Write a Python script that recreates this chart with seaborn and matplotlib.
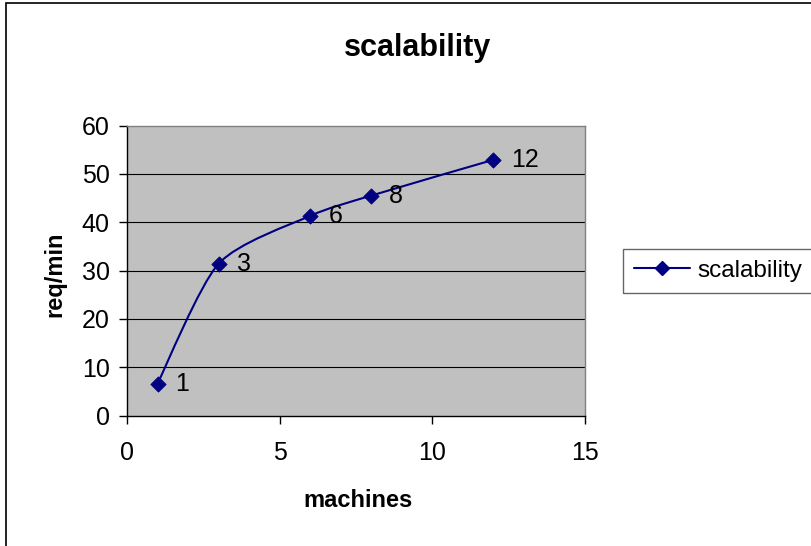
import matplotlib
matplotlib.use("Agg")
import matplotlib.pyplot as plt
import seaborn as sns
import numpy as np
import pandas as pd
from matplotlib.path import Path
from matplotlib.patches import PathPatch, Rectangle
from matplotlib.lines import Line2D

# data
machines = [1, 3, 6, 8, 12]
req_per_min = [6.6, 31.4, 41.3, 45.5, 52.9]
point_labels = ["1", "3", "6", "8", "12"]
x_ticks = [0, 5, 10, 15]
y_ticks = [0, 10, 20, 30, 40, 50, 60]

navy = "#000080"
df = pd.DataFrame({"machines": machines, "req_per_min": req_per_min})

sns.set_style("white")
plt.rcParams["font.family"] = ["Liberation Sans", "DejaVu Sans"]
plt.rcParams["text.color"] = "black"
plt.rcParams["axes.labelcolor"] = "black"
plt.rcParams["xtick.color"] = "black"
plt.rcParams["ytick.color"] = "black"

fig = plt.figure(figsize=(8.12, 5.46), dpi=100)
ax = fig.add_axes([127 / 812, 1 - 415.5 / 546, (585 - 127) / 812, (415.5 - 125.5) / 546])
ax.set_facecolor("#C0C0C0")
ax.set_xlim(0, 15)
ax.set_ylim(0, 60)

# chart outer border (cut off at right / bottom like the screenshot)
fig.patches.append(Rectangle((6 / 812, -0.1), 1.2, 1 - 3 / 546 + 0.1,
                             transform=fig.transFigure, fill=False,
                             edgecolor="black", linewidth=1.2))

for v in y_ticks[1:-1]:
    ax.axhline(v, color="black", linewidth=0.8, zorder=1)

# smoothed line (Excel-style bezier through the points, in screen space)
fig.canvas.draw()
pts = ax.transData.transform(np.column_stack([machines, req_per_min]))
verts = [tuple(pts[0])]
codes = [Path.MOVETO]
n = len(pts)
for i in range(n - 1):
    p0 = pts[max(i - 1, 0)]
    p1 = pts[i]
    p2 = pts[i + 1]
    p3 = pts[min(i + 2, n - 1)]
    c1 = p1 + (p2 - p0) / 8.0
    c2 = p2 - (p3 - p1) / 8.0
    verts += [tuple(c1), tuple(c2), tuple(p2)]
    codes += [Path.CURVE4, Path.CURVE4, Path.CURVE4]
patch = PathPatch(Path(verts, codes), facecolor="none", edgecolor=navy,
                  linewidth=1.5, transform=None, zorder=3)
ax.add_artist(patch)
patch.set_clip_on(False)

sns.scatterplot(data=df, x="machines", y="req_per_min", marker="D", s=60,
                color=navy, edgecolor=navy, ax=ax, zorder=4, legend=False)

for x, y, t in zip(machines, req_per_min, point_labels):
    ax.annotate(t, (x, y), xytext=(13, 0), textcoords="offset points",
                va="center", ha="left", fontsize=18, color="black")

ax.set_xticks(x_ticks)
ax.set_yticks(y_ticks)
ax.tick_params(axis="both", direction="out", length=5.5, width=1, color="black",
               labelsize=18, bottom=True, left=True)
ax.tick_params(axis="x", pad=13)
ax.tick_params(axis="y", pad=7)
for s in ["left", "bottom"]:
    ax.spines[s].set_color("black")
    ax.spines[s].set_linewidth(1)
for s in ["top", "right"]:
    ax.spines[s].set_color("#808080")
    ax.spines[s].set_linewidth(1)

ax.set_xlabel("machines", fontsize=17, fontweight="bold")
ax.xaxis.label.set_va("baseline")
ax.xaxis.set_label_coords(0.504, (415.5 - 507) / 290)
ax.set_ylabel("req/min", fontsize=17, fontweight="bold")
ax.yaxis.label.set_va("center")
ax.yaxis.set_label_coords((55 - 127) / 458, (415.5 - 274) / 290)

fig.text(418 / 812, 1 - 56 / 546, "scalability", ha="center", va="baseline",
         fontsize=22, fontweight="bold")

handle = Line2D([], [], color=navy, marker="D", markersize=7.5, linewidth=1.5)
leg = fig.legend([handle], ["scalability"], loc="upper left",
                 bbox_to_anchor=(623 / 812, 1 - 249 / 546), fontsize=17.5,
                 frameon=True, fancybox=False, edgecolor="#404040",
                 handlelength=2.3, borderpad=0.45, handletextpad=0.3,
                 borderaxespad=0)
leg.get_frame().set_linewidth(1)

fig.savefig("out.png", dpi=100)
